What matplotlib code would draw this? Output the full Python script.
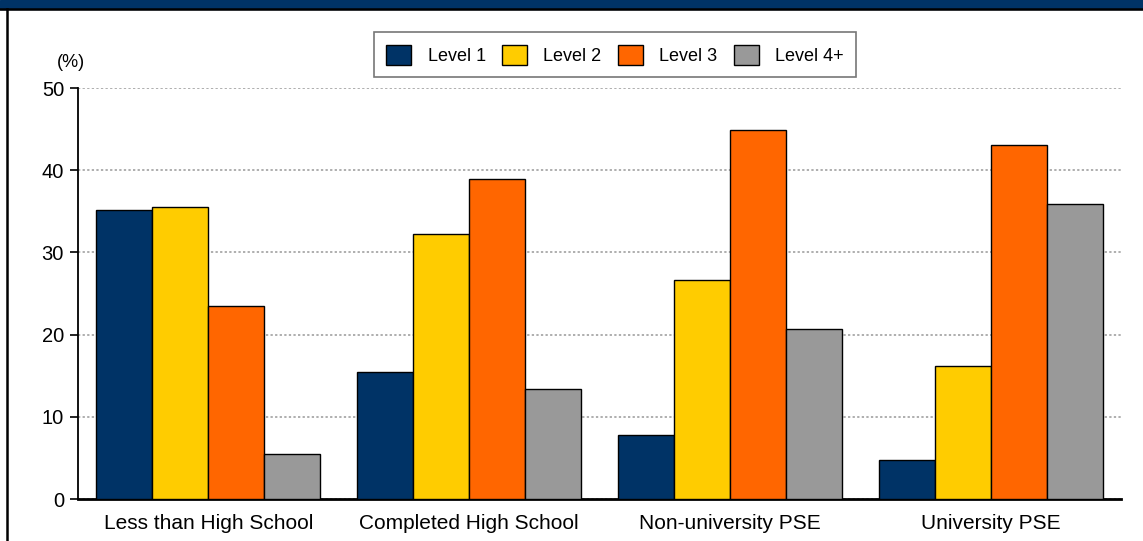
import matplotlib.pyplot as plt
import matplotlib.patches as mpatches
import matplotlib.lines as mlines
import numpy as np

plt.rcParams['font.family'] = ['Liberation Sans', 'DejaVu Sans']

categories = ['Less than High School', 'Completed High School',
              'Non-university PSE', 'University PSE']
levels = ['Level 1', 'Level 2', 'Level 3', 'Level 4+']
level_1 = [35.2, 15.4, 7.8, 4.7]
level_2 = [35.5, 32.2, 26.6, 16.2]
level_3 = [23.5, 38.9, 44.9, 43.1]
level_4 = [5.5, 13.4, 20.7, 35.9]
colors = ['#003366', '#FFCC00', '#FF6600', '#999999']

fig = plt.figure(figsize=(11.43, 5.41), dpi=100)
ax = fig.add_axes([0.0682, 0.0776, 0.9126, 0.7597])

x = np.arange(len(categories))
width = 0.215
series = [level_1, level_2, level_3, level_4]
for i, (vals, lab, c) in enumerate(zip(series, levels, colors)):
    ax.bar(x + (i - 1.5) * width, vals, width, color=c, edgecolor='black',
           linewidth=1.0, label=lab, zorder=3)

ax.set_xlim(-0.5, 3.5)
ax.set_ylim(0, 50)
ax.set_yticks(np.arange(0, 51, 10))
ax.set_xticks(x)
ax.set_xticklabels(categories, fontsize=15)
ax.tick_params(axis='y', labelsize=14.5, length=6, width=1.2, direction='out', pad=4)
ax.tick_params(axis='x', length=0, pad=11)
ax.yaxis.grid(True, linestyle=(0, (1.5, 1.5)), color='#999999', linewidth=1.1, zorder=0)
ax.spines['top'].set_visible(False)
ax.spines['right'].set_visible(False)
ax.spines['left'].set_linewidth(1.3)
ax.spines['bottom'].set_linewidth(2)

fig.text(0.0625, 0.885, '(%)', fontsize=13, ha='center', va='center')

leg = fig.legend(loc='center', bbox_to_anchor=(0.538, 0.899), ncol=4,
                 fontsize=13, frameon=True, fancybox=False, edgecolor='#555555',
                 handlelength=1.4, handleheight=1.35, handletextpad=0.9,
                 columnspacing=0.9, borderpad=0.68)
leg.get_frame().set_linewidth(1.2)

# header band and frame
fig.patches.append(mpatches.Rectangle((0, 1 - 8.5 / 541), 1, 8.5 / 541,
                                      transform=fig.transFigure, color='#003366'))
fig.lines.append(mlines.Line2D([0, 1], [1 - 9 / 541] * 2, transform=fig.transFigure,
                               color='black', linewidth=1.8))
fig.lines.append(mlines.Line2D([7 / 1143] * 2, [0, 1 - 9 / 541], transform=fig.transFigure,
                               color='black', linewidth=1.8))

fig.savefig('out.png', dpi=100)
